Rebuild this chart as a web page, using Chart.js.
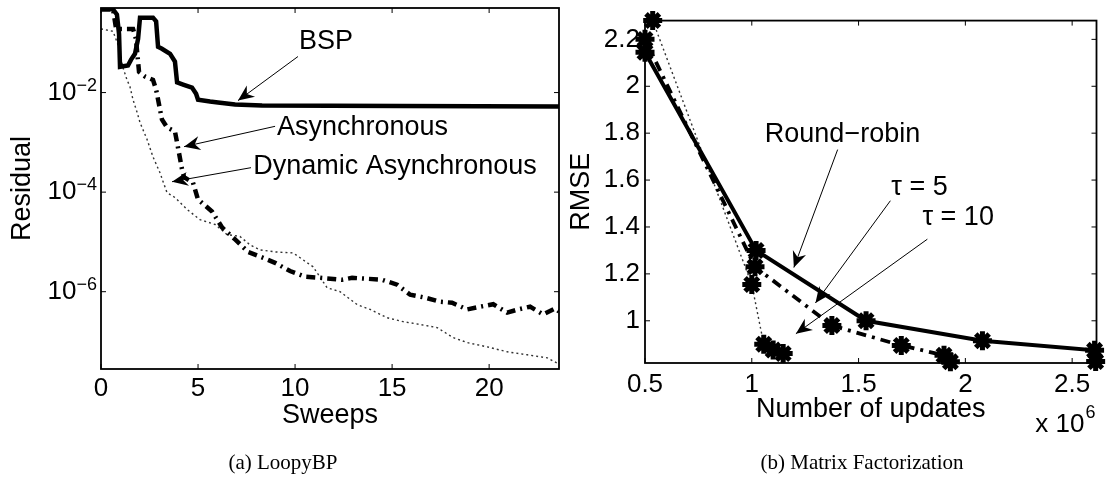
<!DOCTYPE html>
<html lang="en">
<head>
<meta charset="UTF-8">
<title>LoopyBP and Matrix Factorization</title>
<script src="https://cdn.jsdelivr.net/npm/chart.js@4.4.1/dist/chart.umd.min.js"></script>
<style>
  body { margin: 0; background: #fff; }
  #page { position: relative; width: 1111px; height: 477px; overflow: hidden; }
  .panel { position: absolute; top: 0; height: 477px; }
  #leftPanel { left: 0; width: 560px; }
  #rightPanel { left: 560px; width: 551px; }
  .caption {
    position: absolute; top: 451px; height: 22px; line-height: 22px;
    text-align: center; color: #000;
    font-family: "Liberation Serif", "Times New Roman", serif; font-size: 21px;
  }
</style>
</head>
<body>
<div id="page">
  <div class="panel" id="leftPanel"><canvas id="loopyChart"></canvas></div>
  <div class="panel" id="rightPanel"><canvas id="mfChart"></canvas></div>
  <div class="caption" style="left:183px;width:200px">(a) LoopyBP</div>
  <div class="caption" style="left:712px;width:300px">(b) Matrix Factorization</div>
</div>

<script>
// (a) LoopyBP - residual against sweeps
const bspSweeps = [0, 0.62, 0.82, 0.93, 0.98, 1.39, 1.55, 1.75, 1.91, 2.01, 2.68, 2.84, 2.94, 3.14, 3.56, 3.81, 3.92, 4.23, 4.69, 4.90, 5.0, 5.62, 6.03, 6.91, 8.3, 15.4, 23.6];
const bspResidual = [0.47, 0.47, 0.37, 0.15, 3.3e-2, 3.5e-2, 4.6e-2, 6.0e-2, 0.12, 0.32, 0.32, 0.27, 8.3e-2, 7.6e-2, 6.0e-2, 4.2e-2, 1.6e-2, 1.45e-2, 1.26e-2, 9.5e-3, 7.2e-3, 6.6e-3, 6.3e-3, 5.75e-3, 5.5e-3, 5.4e-3, 5.25e-3];

const asyncSweeps = [0, 0.62, 0.77, 0.88, 1.65, 1.80, 1.96, 2.27, 2.68, 2.84, 2.99, 3.14, 3.40, 3.81, 3.97, 4.18, 4.28, 4.74, 5.0, 5.72, 6.24, 6.91, 7.58, 8.35, 8.97, 9.74, 10.52, 11.29, 12.42, 12.94, 13.71, 14.48, 15.26, 15.93, 16.70, 17.47, 18.09, 18.87, 19.54, 20.21, 20.93, 21.49, 22.11, 22.78, 23.40, 23.6];
const asyncResidual = [0.47, 0.47, 0.20, 0.19, 0.19, 0.12, 2.6e-2, 2.1e-2, 1.8e-2, 1.15e-2, 5.75e-3, 2.9e-3, 2.0e-3, 1.66e-3, 7.8e-4, 2.8e-4, 2.0e-4, 1.55e-4, 7.1e-5, 4.1e-5, 1.95e-5, 1.12e-5, 6.3e-6, 4.8e-6, 3.8e-6, 2.6e-6, 2.0e-6, 1.9e-6, 1.74e-6, 1.9e-6, 1.82e-6, 1.74e-6, 1.38e-6, 8.7e-7, 7.6e-7, 6.3e-7, 6.0e-7, 4.4e-7, 5.0e-7, 5.6e-7, 3.8e-7, 4.4e-7, 5.0e-7, 3.5e-7, 4.6e-7, 4.0e-7];

const dynSweeps = [0, 0.62, 0.88, 1.13, 1.34, 1.49, 1.65, 1.86, 2.01, 2.37, 2.68, 3.04, 3.20, 3.40, 3.81, 4.43, 5.10, 5.88, 6.49, 7.16, 7.68, 8.20, 8.97, 9.90, 10.26, 10.93, 11.65, 12.32, 13.20, 13.87, 14.74, 15.57, 16.44, 17.32, 18.14, 18.87, 19.90, 20.93, 21.96, 22.99, 23.6];
const dynResidual = [0.19, 0.17, 9.1e-2, 3.2e-2, 1.8e-2, 1.32e-2, 7.2e-3, 4.0e-3, 2.5e-3, 1.15e-3, 5.1e-4, 2.45e-4, 1.62e-4, 9.8e-5, 7.8e-5, 4.5e-5, 2.8e-5, 2.24e-5, 1.41e-5, 1.29e-5, 8.7e-6, 6.9e-6, 6.3e-6, 6.0e-6, 4.8e-6, 3.16e-6, 1.2e-6, 1.0e-6, 5.5e-7, 4.4e-7, 3.0e-7, 2.5e-7, 2.2e-7, 1.9e-7, 1.2e-7, 9.5e-8, 7.8e-8, 6.2e-8, 5.4e-8, 4.7e-8, 3.5e-8];

const sweepTicks = [0, 5, 10, 15, 20];
const residualTicks = [1e-6, 1e-4, 1e-2];
const residualExponents = ['\u22126', '\u22124', '\u22122'];

// (b) Matrix factorization - RMSE against number of updates (x 10^6)
const rrUpdates = [0.5, 1.02, 1.535, 2.08, 2.605, 2.61];
const rrRmse = [2.145, 1.30, 1.0, 0.915, 0.874, 0.826];
const tau5Updates = [0.5, 1.015, 1.375, 1.70, 1.90, 1.93];
const tau5Rmse = [2.20, 1.23, 0.98, 0.895, 0.853, 0.825];
const tau10Updates = [0.536, 1.0, 1.056, 1.10, 1.147];
const tau10Rmse = [2.28, 1.155, 0.90, 0.875, 0.86];

const updateTicks = [0.5, 1, 1.5, 2, 2.5];
const rmseTicks = [1, 1.2, 1.4, 1.6, 1.8, 2, 2.2];

const sans = '"Liberation Sans", Arial, Helvetica, sans-serif';
Chart.defaults.font.family = sans;
Chart.defaults.color = '#000';

const tickFont = { family: sans, size: 26 };
const titleFont = { family: sans, size: 27 };

function pts(xs, ys) {
    return xs.map((x, i) => ({ x: x, y: ys[i] }));
}

// box round the plot area with inward ticks on all four sides
const framePlugin = {
    id: 'frame',
    afterDatasetsDraw(chart) {
        const { ctx, chartArea: a, scales } = chart;
        const len = 5;
        ctx.save();
        ctx.strokeStyle = '#000';
        ctx.lineWidth = 1.8;
        ctx.strokeRect(a.left, a.top, a.right - a.left, a.bottom - a.top);
        ctx.lineWidth = 1;
        ctx.beginPath();
        scales.x.ticks.forEach(t => {
            const px = scales.x.getPixelForValue(t.value);
            ctx.moveTo(px, a.bottom); ctx.lineTo(px, a.bottom - len);
            ctx.moveTo(px, a.top); ctx.lineTo(px, a.top + len);
        });
        scales.y.ticks.forEach(t => {
            const py = scales.y.getPixelForValue(t.value);
            ctx.moveTo(a.left, py); ctx.lineTo(a.left + len, py);
            ctx.moveTo(a.right, py); ctx.lineTo(a.right - len, py);
        });
        ctx.stroke();
        ctx.restore();
    }
};

function drawArrow(ctx, x0, y0, x1, y1) {
    ctx.beginPath();
    ctx.moveTo(x0, y0);
    ctx.lineTo(x1, y1);
    ctx.lineWidth = 1;
    ctx.stroke();
    const ang = Math.atan2(y1 - y0, x1 - x0);
    const c = Math.cos(ang), s = Math.sin(ang);
    const L = 16, W = 7, N = 11;
    ctx.beginPath();
    ctx.moveTo(x1, y1);
    ctx.lineTo(x1 - L * c + W * s, y1 - L * s - W * c);
    ctx.lineTo(x1 - N * c, y1 - N * s);
    ctx.lineTo(x1 - L * c - W * s, y1 - L * s + W * c);
    ctx.closePath();
    ctx.fill();
}

// text labels with arrows, placed in data coordinates
const notesPlugin = {
    id: 'notes',
    afterDraw(chart, args, opts) {
        const { ctx, scales } = chart;
        const X = v => scales.x.getPixelForValue(v);
        const Y = v => scales.y.getPixelForValue(v);
        ctx.save();
        ctx.fillStyle = '#000';
        ctx.strokeStyle = '#000';
        (opts.items || []).forEach(n => {
            drawArrow(ctx, X(n.from[0]), Y(n.from[1]), X(n.to[0]), Y(n.to[1]));
            ctx.font = '27px ' + sans;
            ctx.textAlign = n.align || 'left';
            ctx.textBaseline = 'middle';
            ctx.fillText(n.text, X(n.at[0]), Y(n.at[1]));
        });
        if (opts.multiplier) {
            const a = chart.chartArea;
            ctx.textBaseline = 'middle';
            ctx.font = '18px ' + sans;
            ctx.textAlign = 'left';
            ctx.fillText(opts.multiplier, a.right - 11, a.bottom + 50);
            ctx.font = '26px ' + sans;
            ctx.textAlign = 'right';
            ctx.fillText('x 10', a.right - 12, a.bottom + 62);
        }
        ctx.restore();
    }
};

// 10 with a raised exponent for the log axis
const powerLabels = {
    id: 'powerLabels',
    afterDraw(chart, args, opts) {
        if (!opts.exponents) return;
        const { ctx, chartArea: a } = chart;
        const y = chart.scales.y;
        ctx.save();
        ctx.fillStyle = '#000';
        ctx.textBaseline = 'middle';
        y.ticks.forEach((t, i) => {
            const py = y.getPixelForValue(t.value);
            const sup = opts.exponents[i];
            ctx.font = '18px ' + sans;
            const w = ctx.measureText(sup).width;
            const right = a.left - 4;
            ctx.textAlign = 'left';
            ctx.fillText(sup, right - w, py - 7);
            ctx.font = '26px ' + sans;
            ctx.textAlign = 'right';
            ctx.fillText('10', right - w, py);
        });
        ctx.restore();
    }
};

// Left chart: LoopyBP
new Chart(document.getElementById('loopyChart'), {
    type: 'line',
    data: {
        datasets: [
            {
                label: 'BSP',
                data: pts(bspSweeps, bspResidual),
                borderColor: '#000', borderWidth: 4.5,
                pointRadius: 0, tension: 0
            },
            {
                label: 'Asynchronous',
                data: pts(asyncSweeps, asyncResidual),
                borderColor: '#000', borderWidth: 4.5, borderDash: [9, 5, 2, 5],
                pointRadius: 0, tension: 0
            },
            {
                label: 'Dynamic Asynchronous',
                data: pts(dynSweeps, dynResidual),
                borderColor: '#333', borderWidth: 1.4, borderDash: [2, 3],
                pointRadius: 0, tension: 0
            }
        ]
    },
    options: {
        responsive: true,
        maintainAspectRatio: false,
        animation: false,
        layout: { padding: { top: 8, right: 1, left: 0, bottom: 0 } },
        plugins: {
            legend: { display: false },
            tooltip: { enabled: false },
            powerLabels: { exponents: residualExponents },
            notes: {
                items: [
                    { text: 'BSP', align: 'center', at: [11.6, 0.106], from: [10.15, 0.053], to: [7.06, 6.9e-3] },
                    { text: 'Asynchronous', at: [9.07, 2.0e-3], from: [8.97, 2.1e-3], to: [4.28, 8.2e-4] },
                    { text: 'Dynamic Asynchronous', at: [7.84, 3.2e-4], from: [7.73, 3.1e-4], to: [3.66, 1.62e-4] }
                ]
            }
        },
        scales: {
            x: {
                type: 'linear', min: 0, max: 23.6,
                afterBuildTicks: s => { s.ticks = sweepTicks.map(v => ({ value: v })); },
                afterFit: s => { s.height = 108; },
                grid: { display: false, drawTicks: false },
                border: { display: false },
                ticks: { font: tickFont, color: '#000', padding: 4.4, maxRotation: 0, autoSkip: false, callback: v => String(v) },
                title: { display: true, text: 'Sweeps', font: titleFont, color: '#000', padding: { top: 0, bottom: 44.8 } }
            },
            y: {
                type: 'logarithmic', min: 2.8e-8, max: 0.5,
                afterBuildTicks: s => { s.ticks = residualTicks.map(v => ({ value: v })); },
                afterFit: s => { s.width = 101; },
                grid: { display: false, drawTicks: false },
                border: { display: false },
                ticks: { display: false },
                title: { display: true, text: 'Residual', font: titleFont, color: '#000', padding: { top: 6.8, bottom: 0 } }
            }
        }
    },
    plugins: [framePlugin, notesPlugin, powerLabels]
});

// Right chart: matrix factorization
const starPoints = { pointStyle: 'star', pointRadius: 9.5, pointBorderWidth: 5, pointBorderColor: '#000', pointBackgroundColor: '#000' };

new Chart(document.getElementById('mfChart'), {
    type: 'line',
    data: {
        datasets: [
            Object.assign({
                label: 'Round-robin',
                data: pts(rrUpdates, rrRmse),
                borderColor: '#000', borderWidth: 4, tension: 0, clip: false
            }, starPoints),
            Object.assign({
                label: '\u03c4 = 5',
                data: pts(tau5Updates, tau5Rmse),
                borderColor: '#000', borderWidth: 3.8, borderDash: [10, 6, 3, 6], tension: 0, clip: false
            }, starPoints),
            Object.assign({
                label: '\u03c4 = 10',
                data: pts(tau10Updates, tau10Rmse),
                borderColor: '#333', borderWidth: 1.4, borderDash: [2, 3], tension: 0, clip: false
            }, starPoints)
        ]
    },
    options: {
        responsive: true,
        maintainAspectRatio: false,
        animation: false,
        layout: { padding: { top: 15, right: 2, left: 0, bottom: 0 } },
        plugins: {
            legend: { display: false },
            tooltip: { enabled: false },
            notes: {
                multiplier: '6',
                items: [
                    { text: 'Round\u2212robin', at: [1.061, 1.793], from: [1.402, 1.73], to: [1.197, 1.227] },
                    { text: '\u03c4 = 5', at: [1.653, 1.567], from: [1.649, 1.512], to: [1.298, 1.076] },
                    { text: '\u03c4 = 10', at: [1.799, 1.441], from: [1.822, 1.348], to: [1.2065, 0.945] }
                ]
            }
        },
        scales: {
            x: {
                type: 'linear', min: 0.5, max: 2.614,
                afterBuildTicks: s => { s.ticks = updateTicks.map(v => ({ value: v })); },
                afterFit: s => { s.height = 114; },
                grid: { display: false, drawTicks: false },
                border: { display: false },
                ticks: { font: tickFont, color: '#000', padding: 6.4, maxRotation: 0, autoSkip: false, callback: v => String(v) },
                title: { display: true, text: 'Number of updates', font: titleFont, color: '#000', padding: { top: 0, bottom: 50.8 } }
            },
            y: {
                type: 'linear', min: 0.82, max: 2.28,
                afterBuildTicks: s => { s.ticks = rmseTicks.map(v => ({ value: v })); },
                afterFit: s => { s.width = 85; },
                grid: { display: false, drawTicks: false },
                border: { display: false },
                ticks: { font: tickFont, color: '#000', padding: 5, callback: v => String(v) },
                title: { display: true, text: 'RMSE', font: titleFont, color: '#000', padding: { top: 5.8, bottom: 0 } }
            }
        }
    },
    plugins: [framePlugin, notesPlugin]
});
</script>
</body>
</html>
